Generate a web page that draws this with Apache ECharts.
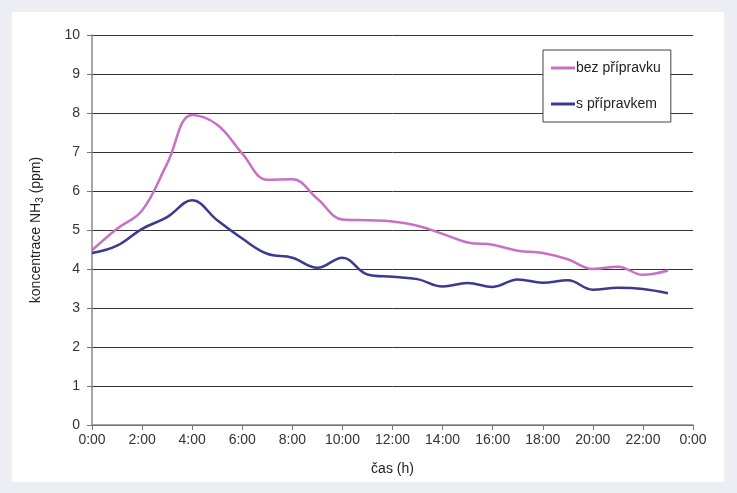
<!DOCTYPE html>
<html>
<head>
<meta charset="utf-8">
<script src="https://cdn.jsdelivr.net/npm/echarts@6/dist/echarts.min.js"></script>
<style>
html,body{margin:0;padding:0;background:#eceef3;}
#c{width:737px;height:493px;}
</style>
</head>
<body>
<div id="c"></div>
<script>
var hours = [0,1,2,3,4,5,6,7,8,9,10,11,12,13,14,15,16,17,18,19,20,21,22,23];
var xTicks = ['0:00','2:00','4:00','6:00','8:00','10:00','12:00','14:00','16:00','18:00','20:00','22:00','0:00'];
var bezPripravku = [4.48,5.03,5.5,6.7,7.95,7.7,6.96,6.29,6.3,5.8,5.27,5.25,5.22,5.11,4.9,4.68,4.62,4.47,4.41,4.25,4.0,4.06,3.85,3.96];
var sPripravkem = [4.41,4.6,5.03,5.33,5.76,5.25,4.78,4.39,4.29,4.03,4.29,3.86,3.8,3.74,3.55,3.64,3.54,3.73,3.65,3.71,3.47,3.52,3.49,3.38];

function pairs(vals){ return hours.map(function(h,i){ return [h, vals[i]]; }); }

var chart = echarts.init(document.getElementById('c'));
chart.setOption({
  animation:false,
  backgroundColor:'transparent',
  textStyle:{fontFamily:'Liberation Sans, Arial, sans-serif'},
  graphic:[{type:'rect', shape:{x:12,y:12,width:712,height:470}, style:{fill:'#ffffff'}, z:-10}],
  grid:{left:92,right:44,top:35,bottom:68},
  legend:{
    orient:'vertical', left:543, top:50,
    padding:[11,10,11,8], itemGap:22,
    backgroundColor:'#ffffff', borderColor:'#444', borderWidth:1,
    icon:'rect', itemWidth:24, itemHeight:3,
    textStyle:{fontSize:14, color:'#222', padding:[0,0,0,-4]},
    data:['bez přípravku','s přípravkem']
  },
  xAxis:{
    type:'value', min:0, max:24, interval:2,
    name:'čas (h)', nameLocation:'middle', nameGap:37,
    nameTextStyle:{fontSize:14,color:'#222'},
    axisLine:{lineStyle:{color:'#888',width:1.5}},
    axisTick:{show:true,length:5,lineStyle:{color:'#777'}},
    axisLabel:{fontSize:14,color:'#333',margin:8,formatter:function(v){return xTicks[v/2];}},
    splitLine:{show:false}
  },
  yAxis:{
    type:'value', min:0, max:10, interval:1,
    name:'{a|koncentrace NH}{s|3}{a| (ppm)}', nameLocation:'middle', nameGap:47, nameRotate:90,
    nameTextStyle:{rich:{a:{fontSize:14,color:'#222'},s:{fontSize:10,color:'#222',verticalAlign:'bottom',padding:[8,0,0,0]}}},
    axisLine:{show:true,lineStyle:{color:'#888',width:1.5}},
    axisTick:{show:true,length:5,lineStyle:{color:'#777'}},
    axisLabel:{fontSize:14,color:'#333',margin:12},
    splitLine:{lineStyle:{color:'#333',width:1}}
  },
  series:[
    {name:'bez přípravku', type:'line', smooth:0.4, symbol:'none', data:pairs(bezPripravku),
     lineStyle:{color:'#c870c6',width:2.5}, itemStyle:{color:'#c870c6'}},
    {name:'s přípravkem', type:'line', smooth:0.4, symbol:'none', data:pairs(sPripravkem),
     lineStyle:{color:'#3b3a8e',width:2.5}, itemStyle:{color:'#3b3a8e'}}
  ]
});
</script>
</body>
</html>
